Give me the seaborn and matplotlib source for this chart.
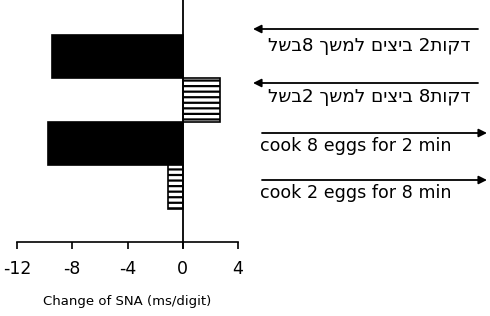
import pandas as pd
import numpy as np
import seaborn as sns
import matplotlib.pyplot as plt

# values (change of SNA, ms/digit)
conditions = ["heb_8_2", "heb_2_8", "eng_8_2", "eng_2_8"]
sna_change = [-9.45, 2.7, -9.75, -1.1]
bar_colors = ["black", "white", "black", "white"]
bar_hatches = ["", "---", "", "---"]

# right-hand labels (Hebrew typed in visual order, matplotlib has no bidi)
labels = ["לשב8 ךשמל םיציב 2תוקד", "לשב2 ךשמל םיציב 8תוקד",
          "cook 8 eggs for 2 min", "cook 2 eggs for 8 min"]
arrow_left = [True, True, False, False]

xticks = [-12, -8, -4, 0, 4]

df = pd.DataFrame({"cond": conditions, "sna": sna_change})

sns.set_style("white")
plt.rcParams["font.family"] = ["DejaVu Sans"]
plt.rcParams["hatch.linewidth"] = 1.6
plt.rcParams["text.color"] = "black"
plt.rcParams["axes.labelcolor"] = "black"
plt.rcParams["xtick.color"] = "black"

fig = plt.figure(figsize=(4.9, 3.16), dpi=100)
ax = fig.add_axes([17 / 490, (316 - 242) / 316, 221 / 490, 242 / 316])

sns.barplot(data=df, x="sna", y="cond", hue="cond", palette=bar_colors,
            width=1.0, legend=False, ax=ax, edgecolor="black", linewidth=1.2)
for patch, h in zip(ax.patches, bar_hatches):
    patch.set_hatch(h)

ax.axvline(0, color="black", lw=1.3, ymin=-0.025, ymax=1, clip_on=False)
ax.set_xlim(-12, 4)
ax.set_ylim(4.26, -1.3)
ax.set_xticks(xticks)
ax.set_xticklabels([str(t) for t in xticks], fontsize=12.5)
ax.set_yticks([])
ax.set_ylabel("")
ax.set_xlabel("Change of SNA (ms/digit)", fontsize=9.5, labelpad=12)
for s in ["top", "right", "left"]:
    ax.spines[s].set_visible(False)
ax.spines["bottom"].set_linewidth(1.2)
ax.spines["bottom"].set_color("black")
ax.tick_params(axis="x", direction="out", length=5, width=1.2, pad=8, bottom=True)

# arrows + text to the right of the plot (figure pixel positions)
arrow_y = [29, 83, 133, 180]
text_y = [46, 97, 146, 193]
text_size = [13.2, 13.2, 12.6, 12.6]
for lab, left, ay, ty, fs in zip(labels, arrow_left, arrow_y, text_y, text_size):
    if left:
        start, end = (478, 316 - ay), (253, 316 - ay)
    else:
        start, end = (262, 316 - ay), (487, 316 - ay)
    ax.annotate("", xy=end, xytext=start, xycoords="figure pixels",
                textcoords="figure pixels",
                arrowprops=dict(arrowstyle="-|>", color="black", lw=1.3,
                                mutation_scale=12, shrinkA=0, shrinkB=0))
    tx = 470 if left else 260
    ha = "right" if left else "left"
    fig.text(tx / 490, 1 - ty / 316, lab, ha=ha, va="center", fontsize=fs)

fig.savefig("out.png", dpi=100)
